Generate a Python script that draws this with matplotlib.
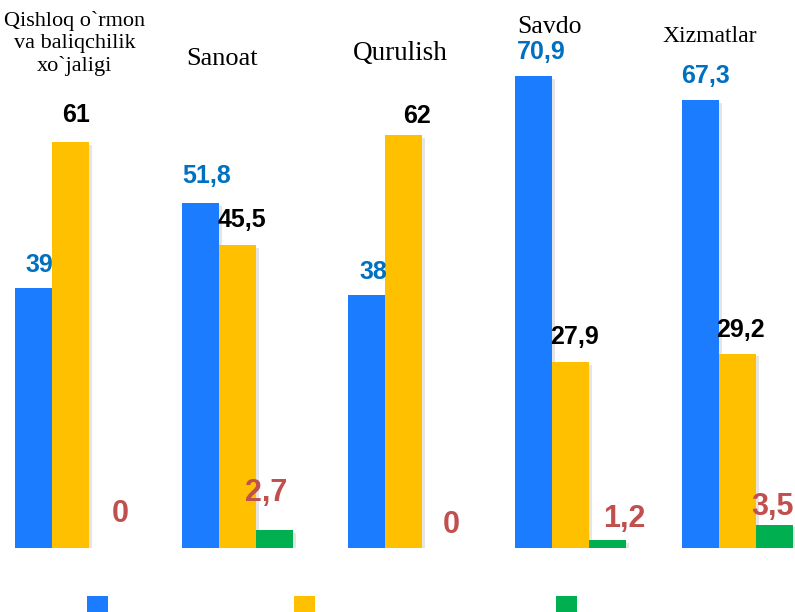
import matplotlib
matplotlib.use("Agg")
import matplotlib.pyplot as plt
import matplotlib.patheffects as pe
import matplotlib.transforms as mtransforms
from matplotlib.patches import Patch
import numpy as np

# ---- data ----
categories = ["Qishloq o`rmon\nva baliqchilik\nxo`jaligi", "Sanoat", "Qurulish", "Savdo", "Xizmatlar"]
series1 = [39, 51.8, 38, 70.9, 67.3]
series2 = [61, 45.5, 62, 27.9, 29.2]
series3 = [0, 2.7, 0, 1.2, 3.5]

# ---- styles ----
bar_colors = ["#1C7CFF", "#FFC000", "#00B050"]
label_colors = ["#0070C0", "#000000", "#C0504D"]
label_sizes = [18, 18, 22]
# per-label offsets in pixels (dx, dy) from bar top centre
offs1 = [(6, 16), (6.5, 20), (6, 16), (7, 17), (5, 17)]
offs2 = [(6, 20), (4.5, 18), (13.5, 12), (4, 18), (2.5, 17)]
offs3 = [(12.5, 26), (-8.5, 29), (10.5, 15), (17, 13), (-1.5, 10)]
# category label placement: (dx pixels from group centre, y pixel from top, fontsize)
cat_place = [(4, 11, 16), (-15, 65, 19), (-3.5, 60, 19.5), (-21, 33, 18.5), (-28, 42, 17)]

W, H = 795, 612
fig = plt.figure(figsize=(W / 100, H / 100), dpi=100)
ax = fig.add_axes([0, (H - 548) / H, 1, 548 / H])

unit = 166.75
w = 37 / unit
x = np.arange(len(categories))
ax.set_xlim(-70.5 / unit, (W - 70.5) / unit)
ax.set_ylim(0, 548 / 6.66)
ax.axis("off")

shadow = [pe.SimplePatchShadow(offset=(2, -2), shadow_rgbFace="#aaaaaa", alpha=0.3), pe.Normal()]

all_series = [series1, series2, series3]
all_offs = [offs1, offs2, offs3]
for k, (vals, offs) in enumerate(zip(all_series, all_offs)):
    xs = x + (k - 1) * w
    bars = ax.bar(xs, vals, width=w, color=bar_colors[k], edgecolor="none", zorder=2)
    for b in bars:
        if b.get_height() > 0:
            b.set_path_effects(shadow)
    for xi, v, (dx, dy) in zip(xs, vals, offs):
        ax.annotate(f"{v:g}".replace(".", ","), xy=(xi, v), xytext=(dx, dy),
                    textcoords="offset pixels", ha="center", va="baseline",
                    fontsize=label_sizes[k], fontweight="bold", color=label_colors[k],
                    family="Liberation Sans", zorder=3)

# category labels
trans = mtransforms.blended_transform_factory(ax.transData, fig.transFigure)
for xi, cat, (dx, ypix, fs) in zip(x, categories, cat_place):
    ax.annotate(cat, xy=(xi, 1 - ypix / H), xycoords=trans, xytext=(dx, 0),
                textcoords="offset pixels", ha="center",
                va="baseline" if "\n" not in cat else "top",
                fontsize=fs, family="Liberation Serif", color="black",
                linespacing=1.2, multialignment="center")

# legend squares (labels not visible in reference)
leg_x = [97.5, 304.5, 566.5]
for k in range(3):
    fig.legend(handles=[Patch(facecolor=bar_colors[k], edgecolor="none")], labels=[""],
               loc="center", bbox_to_anchor=(leg_x[k] / W, (H - 606.5) / H),
               frameon=False, fontsize=15, handlelength=1, handleheight=1,
               handletextpad=0, borderpad=0, borderaxespad=0)

fig.savefig("out.png", dpi=100)
